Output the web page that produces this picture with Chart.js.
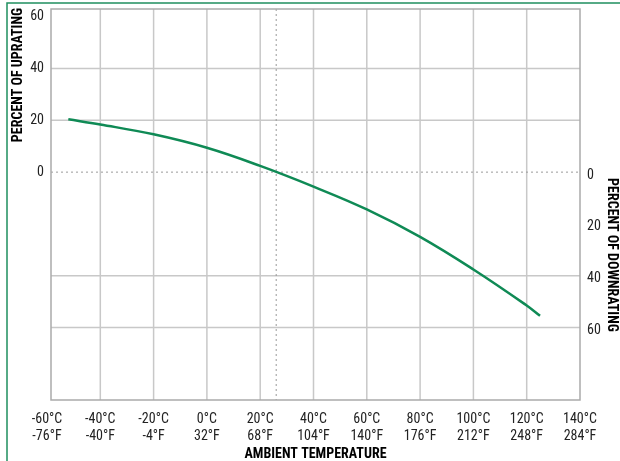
<!DOCTYPE html>
<html><head><meta charset="utf-8">
<script src="https://cdn.jsdelivr.net/npm/chart.js@4/dist/chart.umd.min.js"></script>
<style>html,body{margin:0;padding:0;background:#fff}#w{width:620px;height:461px;position:relative}</style>
</head><body><div id="w"><canvas id="c"></canvas></div>
<script>
const tempsC = [-52, -40, -20, 0, 20, 40, 60, 80, 100, 120, 125];
const percent = [20.4, 18.4, 14.6, 9.4, 2.4, -5.6, -14.4, -25, -37.6, -51.5, -55.5];
const xTicks = [-60, -40, -20, 0, 20, 40, 60, 80, 100, 120, 140];
const xTickF = ['-76°F','-40°F','-4°F','32°F','68°F','104°F','140°F','176°F','212°F','248°F','284°F'];
const leftTicks = [60, 40, 20, 0];
const rightTicks = [0, -20, -40, -60];
const gridY = [40, 20, -40, -60];
const FONT = "'Liberation Sans Narrow','Arial Narrow','Roboto Condensed',sans-serif";
const deco = {
  id:'deco',
  beforeDatasetsDraw(ch){
    const {ctx, chartArea:a, scales:{x,y}} = ch;
    ctx.save();
    ctx.strokeStyle='#c8c8c8'; ctx.lineWidth=1.5;
    xTicks.forEach(v=>{ if(v<=-60||v>=140) return; const px=x.getPixelForValue(v); ctx.beginPath(); ctx.moveTo(px,a.top); ctx.lineTo(px,a.bottom); ctx.stroke();});
    gridY.forEach(v=>{ const py=y.getPixelForValue(v); ctx.beginPath(); ctx.moveTo(a.left,py); ctx.lineTo(a.right,py); ctx.stroke();});
    ctx.strokeStyle='#999'; ctx.lineWidth=1; ctx.setLineDash([2,3]);
    let py=y.getPixelForValue(0); ctx.beginPath(); ctx.moveTo(a.left,py); ctx.lineTo(a.right,py); ctx.stroke();
    let px=x.getPixelForValue(26); ctx.beginPath(); ctx.moveTo(px,a.top); ctx.lineTo(px,a.bottom); ctx.stroke();
    ctx.setLineDash([]);
    ctx.strokeStyle='#aaa'; ctx.lineWidth=1.5; ctx.strokeRect(a.left,a.top,a.right-a.left,a.bottom-a.top);
    ctx.strokeStyle='#1f8f5f'; ctx.lineWidth=1.5; ctx.strokeRect(7,3,640,480);
    ctx.fillStyle='#222'; ctx.font="14px "+FONT; ctx.textBaseline='middle';
    ctx.textAlign='right'; leftTicks.forEach(v=>ctx.fillText(String(v), a.left-7, y.getPixelForValue(v)));
    ctx.textAlign='left'; rightTicks.forEach(v=>ctx.fillText(String(-v), a.right+7, y.getPixelForValue(v)+3));
    ctx.textAlign='center'; ctx.textBaseline='alphabetic';
    xTicks.forEach((v,i)=>{const p=x.getPixelForValue(v); ctx.fillText(v+'°C',p,a.bottom+23); ctx.fillText(xTickF[i],p,a.bottom+40);});
    ctx.font="bold 14px "+FONT; ctx.fillStyle='#000';
    ctx.fillText('AMBIENT TEMPERATURE',(a.left+a.right)/2,a.bottom+58);
    ctx.save(); ctx.translate(22,75); ctx.rotate(-Math.PI/2); ctx.fillText('PERCENT OF UPRATING',0,0); ctx.restore();
    ctx.save(); ctx.translate(608,255); ctx.rotate(Math.PI/2); ctx.fillText('PERCENT OF DOWNRATING',0,0); ctx.restore();
    ctx.restore();
  }
};
new Chart(document.getElementById('c'),{
  type:'line',
  data:{datasets:[{data:tempsC.map((t,i)=>({x:t,y:percent[i]})),borderColor:'#0f8a55',borderWidth:2.5,pointRadius:0,tension:0.4}]},
  options:{responsive:true,maintainAspectRatio:false,animation:false,
    layout:{padding:{left:51,right:40,top:9,bottom:61}},
    plugins:{legend:{display:false},tooltip:{enabled:false}},
    scales:{
      x:{type:'linear',min:-58.5,max:140,display:false},
      y:{min:-88,max:63,display:false}
    }},
  plugins:[deco]
});
</script></body></html>
